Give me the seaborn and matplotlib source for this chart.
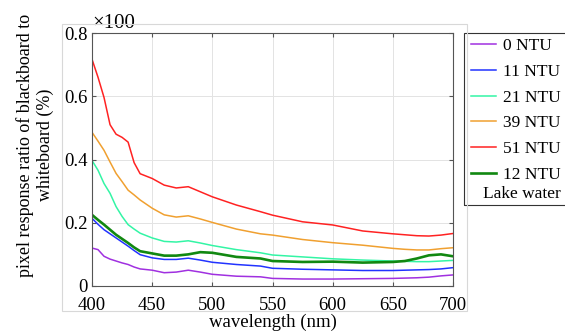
import numpy as np
import pandas as pd
import matplotlib.pyplot as plt
import seaborn as sns
from matplotlib.patches import Rectangle

# wavelength grid (nm) and pixel response ratios (x100 %)
wavelength = [400, 405, 410, 415, 420, 425, 430, 435, 440, 450, 460, 470, 480, 490,
              500, 520, 540, 550, 575, 600, 625, 650, 660, 670, 680, 690, 700]

ntu_0 = [0.120, 0.115, 0.094, 0.085, 0.079, 0.073, 0.068, 0.060, 0.054, 0.050, 0.042, 0.044, 0.050, 0.044,
         0.037, 0.031, 0.029, 0.024, 0.022, 0.022, 0.023, 0.024, 0.025, 0.026, 0.028, 0.032, 0.035]
ntu_11 = [0.214, 0.195, 0.178, 0.165, 0.152, 0.139, 0.126, 0.112, 0.099, 0.089, 0.084, 0.084, 0.088, 0.082,
          0.075, 0.068, 0.063, 0.056, 0.053, 0.051, 0.049, 0.049, 0.050, 0.051, 0.052, 0.054, 0.058]
ntu_21 = [0.397, 0.366, 0.324, 0.293, 0.251, 0.220, 0.194, 0.180, 0.167, 0.152, 0.141, 0.139, 0.143, 0.136,
          0.128, 0.115, 0.105, 0.098, 0.092, 0.086, 0.082, 0.079, 0.078, 0.077, 0.077, 0.079, 0.081]
ntu_39 = [0.486, 0.458, 0.429, 0.392, 0.356, 0.330, 0.303, 0.288, 0.272, 0.246, 0.225, 0.218, 0.222, 0.212,
          0.201, 0.180, 0.165, 0.161, 0.147, 0.137, 0.129, 0.119, 0.116, 0.114, 0.114, 0.118, 0.121]
ntu_51 = [0.717, 0.660, 0.596, 0.510, 0.480, 0.470, 0.455, 0.390, 0.355, 0.340, 0.319, 0.310, 0.314, 0.298,
          0.282, 0.256, 0.235, 0.224, 0.203, 0.193, 0.174, 0.165, 0.162, 0.159, 0.158, 0.161, 0.166]
lake_12 = [0.225, 0.209, 0.194, 0.178, 0.162, 0.149, 0.136, 0.122, 0.110, 0.103, 0.096, 0.096, 0.100, 0.107,
           0.105, 0.092, 0.087, 0.079, 0.076, 0.077, 0.074, 0.076, 0.079, 0.087, 0.097, 0.100, 0.094]

labels = ["0 NTU", "11 NTU", "21 NTU", "39 NTU", "51 NTU", "12 NTU"]
colors = ["#a030e0", "#2233ff", "#33f5a5", "#f0a030", "#ff2222", "#118811"]
series = [ntu_0, ntu_11, ntu_21, ntu_39, ntu_51, lake_12]

plt.rcParams['font.family'] = ['Liberation Serif', 'DejaVu Serif']

fig = plt.figure(figsize=(5.65, 3.35), dpi=100)
ax = fig.add_axes([92 / 565, 1 - 286 / 335, (453 - 92) / 565, (286 - 33) / 335])

for vals, lab, col in zip(series, labels, colors):
    df = pd.DataFrame({"wavelength": wavelength, "ratio": vals})
    lw = 1.9 if lab == "12 NTU" else 1.1
    sns.lineplot(data=df, x="wavelength", y="ratio", color=col, lw=lw, label=lab, ax=ax)

ax.set_xlim(400, 700)
ax.set_ylim(0, 0.8)
ax.set_xticks([400, 450, 500, 550, 600, 650, 700])
ax.set_yticks([0, 0.2, 0.4, 0.6, 0.8])
ax.set_yticklabels(["0", "0.2", "0.4", "0.6", "0.8"])
ax.grid(True, color="#e3e3e3", lw=0.7)
ax.set_axisbelow(True)
for s in ax.spines.values():
    s.set_color("#555555")
    s.set_linewidth(0.8)
ax.tick_params(direction="in", length=3, top=True, right=True, labelsize=13.5,
               color="#555555")
ax.tick_params(axis="x", pad=8)
ax.tick_params(axis="y", pad=3)
ax.set_xlabel("wavelength (nm)", fontsize=13.5, labelpad=0)
ax.set_ylabel("pixel response ratio of blackboard to\nwhiteboard (%)", fontsize=13,
              linespacing=1.2)
ax.yaxis.set_label_coords(-0.106, 0.557)
ax.text(0.0, 1.0, "×100", transform=ax.transAxes, fontsize=15, ha="left", va="bottom")

# legend
h, l = ax.get_legend_handles_labels()
ax.legend(h, l, loc="upper left", bbox_to_anchor=(466 / 565, 1 - 33 / 335),
          bbox_transform=fig.transFigure, frameon=False, fontsize=12.5,
          handlelength=1.45, handletextpad=0.4, labelspacing=0.55, borderpad=0.3,
          borderaxespad=0)
fig.text(522 / 565, 1 - 194 / 335, "Lake water", fontsize=12.5, ha="center", va="center")
fig.patches.append(Rectangle((464 / 565, 1 - 205 / 335), 110 / 565, 172 / 335,
                             transform=fig.transFigure, fill=False, ec="#333333", lw=0.8))
fig.patches.append(Rectangle((62 / 565, 1 - 311 / 335), 405 / 565, 287 / 335,
                             transform=fig.transFigure, fill=False, ec="#d8d8d8", lw=0.8))

fig.savefig("out.png", dpi=100)
